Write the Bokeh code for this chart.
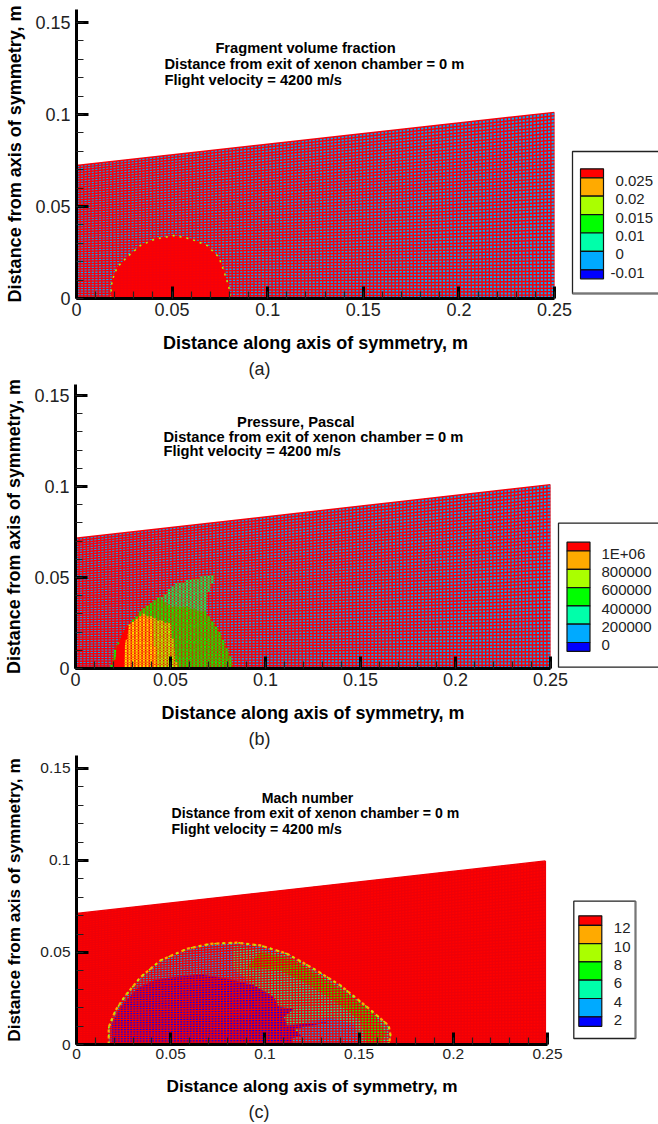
from bokeh.plotting import figure
from bokeh.layouts import column, row
from bokeh.models import Range1d, FixedTicker, Title
from bokeh.models import Label
from bokeh.core.properties import value
from bokeh.embed import file_html
from bokeh.resources import INLINE

FONT = "Liberation Sans"
RED, ORANGE, LIME, GREEN, AQUA, SKY, BLUE = "#ff0000", "#ffaa00", "#aaff00", "#00ff00", "#00ffaa", "#00aaff", "#0000ff"
BAND_COLORS = [RED, ORANGE, LIME, GREEN, AQUA, SKY, BLUE]

x_ticks = [0, 0.05, 0.1, 0.15, 0.2, 0.25]
y_ticks = [0, 0.05, 0.1, 0.15]
x_minor = [i / 100 for i in range(0, 26)]
y_minor = [i / 100 for i in range(0, 16)]

a_levels = ["0.025", "0.02", "0.015", "0.01", "0", "-0.01"]
b_levels = ["1E+06", "800000", "600000", "400000", "200000", "0"]
c_levels = ["12", "10", "8", "6", "4", "2"]

a_title = ["Fragment volume fraction", "Distance from exit of xenon chamber = 0 m", "Flight velocity = 4200 m/s"]
b_title = ["Pressure, Pascal", "Distance from exit of xenon chamber = 0 m", "Flight velocity = 4200 m/s"]
c_title = ["Mach number", "Distance from exit of xenon chamber = 0 m", "Flight velocity = 4200 m/s"]

# Panel (a): fragment volume fraction
a_blob_x = [.0178, .0186, .0213, .0274, .0335, .0413, .0509, .0596, .0683, .0744, .0770, .0797, .0805]
a_blob_y = [0, .0098, .0170, .0234, .0288, .0324, .0342, .0324, .0288, .0225, .0152, .0062, 0]

# Panel (b): pressure
b_green_x = [.0184, .0211, .0263, .0351, .0447, .0535, .0658, .0737, .0693, .0684, .0746, .0781, .0816, .0833]
b_green_y = [0, .0117, .0218, .0328, .0392, .0465, .0502, .0511, .0401, .0309, .0227, .0154, .0062, 0]
b_aqua_x = [.0447, .0535, .0658, .0737, .0693, .0684, .0588, .0483]
b_aqua_y = [.0392, .0465, .0502, .0511, .0401, .0309, .0337, .0346]
b_lime_x = [.0351, .0500, .0535, .0430, .0421, .0412, .0404]
b_lime_y = [.0300, .0246, 0, 0, .0081, .0172, .0264]
b_orange_x = [.0202, .0228, .0281, .0351, .0404, .0412, .0421, .0430]
b_orange_y = [0, .0136, .0236, .0300, .0264, .0172, .0081, 0]
b_red_x = [.0202, .0219, .0263, .0281, .0258, .0254]
b_red_y = [0, .0117, .0218, .0236, .0117, 0]

# Panel (c): Mach number
c_outer_x = [.0171, .0171, .0207, .0260, .0340, .0446, .0587, .0711, .0853, .0977, .1118, .1260, .1401, .1543, .1657, .1667, .1657]
c_outer_y = [0, .0094, .0185, .0266, .0366, .0457, .0520, .0547, .0553, .0538, .0493, .0411, .0321, .0203, .0103, .0049, 0]
c_aqua_x = [.0835, .1118, .1260, .1401, .1543, .1649, .1657, .1153, .1189, .1153, .1331, .1118, .1100, .1153, .1074, .1047, .0941, .0826]
c_aqua_y = [.0538, .0484, .0402, .0312, .0194, .0103, 0, 0, .0049, .0085, .0121, .0103, .0149, .0194, .0203, .0257, .0321, .0420]
c_green_x = [.0977, .1153, .1295, .1437, .1578, .1640, .1614, .1543, .1507, .1366, .1225, .1083, .0906]
c_green_y = [.0502, .0457, .0366, .0275, .0167, .0058, 0, 0, .0130, .0239, .0330, .0402, .0420]
c_sky_x = [.1153, .1189, .1331, .1472, .1507]
c_sky_y = [0, .0112, .0148, .0112, 0]
c_blue_x = [.0189, .0189, .0233, .0322, .0410, .0517, .0658, .0800, .0941, .1047, .1074, .1153, .1100, .1118, .1331, .1153, .1189, .1136, .1153]
c_blue_y = [0, .0112, .0203, .0303, .0348, .0366, .0380, .0357, .0321, .0257, .0203, .0194, .0149, .0103, .0121, .0085, .0049, .0031, 0]


def mesh(p, xr, t0, t1, nx, ny, color, width):
    xs, ys = [], []
    for j in range(ny + 1):
        f = j / ny
        xs.append([0, xr]); ys.append([f * t0, f * t1])
    for i in range(nx + 1):
        x = xr * i / nx
        xs.append([x, x]); ys.append([0, t0 + (t1 - t0) * i / nx])
    p.multi_line(xs, ys, line_color=color, line_width=width)


def inside(px, py, xs, ys):
    hit = False
    n = len(xs)
    for i in range(n):
        x1, y1, x2, y2 = xs[i], ys[i], xs[(i + 1) % n], ys[(i + 1) % n]
        if (y1 > py) != (y2 > py) and px < x1 + (py - y1) * (x2 - x1) / (y2 - y1):
            hit = not hit
    return hit


def node_dots(p, xr, t0, t1, nx, ny, zones, size):
    """Paint the mesh crossings that fall inside a zone in that zone's colour."""
    dx, dy, dc = [], [], []
    for i in range(nx + 1):
        x = xr * i / nx
        top = t0 + (t1 - t0) * i / nx
        for j in range(ny + 1):
            y = top * j / ny
            col = None
            for xs, ys, c in zones:
                if inside(x, y, xs, ys):
                    col = c
            if col:
                dx.append(x); dy.append(y); dc.append(col)
    p.scatter(dx, dy, marker="square", size=size, fill_color=dc, line_color=None)


def panel(left, frame_w, top, bottom, height, y_end, tick_size, label_size, caption, y_standoff, cap_standoff):
    p = figure(width=572, height=height, output_backend="svg", toolbar_location=None,
               x_range=Range1d(0, 0.25), y_range=Range1d(0, y_end),
               min_border_left=left, min_border_right=572 - left - frame_w,
               min_border_top=top, min_border_bottom=bottom,
               outline_line_color=None, background_fill_color=None, border_fill_color=None,
               x_axis_label="Distance along axis of symmetry, m",
               y_axis_label="Distance from axis of symmetry, m")
    p.grid.visible = False
    p.xaxis.ticker = FixedTicker(ticks=x_ticks, minor_ticks=x_minor)
    p.yaxis.ticker = FixedTicker(ticks=y_ticks, minor_ticks=y_minor)
    for ax in (p.xaxis, p.yaxis):
        ax.axis_line_width = 3
        ax.axis_line_color = "#000000"
        ax.major_tick_in = 12
        ax.major_tick_out = 0
        ax.major_tick_line_width = 3
        ax.major_tick_line_color = "#000000"
        ax.minor_tick_in = 7
        ax.minor_tick_out = 0
        ax.minor_tick_line_width = 1.2
        ax.minor_tick_line_color = "#222222"
        ax.major_label_text_font = FONT
        ax.major_label_text_font_size = f"{tick_size}px"
        ax.major_label_text_color = "#222222"
        ax.axis_label_text_font = FONT
        ax.axis_label_text_font_style = "bold"
        ax.axis_label_text_font_size = f"{label_size}px"
        ax.axis_label_text_color = "#000000"
    p.xaxis.major_label_standoff = 4
    p.yaxis.major_label_standoff = 6
    p.xaxis.axis_label_standoff = 14
    p.yaxis.axis_label_standoff = y_standoff
    p.add_layout(Title(text=caption, align="left", offset=259 - left - 11, standoff=cap_standoff,
                       text_font=FONT, text_font_style="normal", text_font_size="18px",
                       text_color="#222222"), "below")
    return p


def title_block(p, lines, cx, lx, ys, size):
    p.add_layout(Label(x=cx, y=ys[0], text=lines[0], text_align="center", text_baseline="middle",
                       text_font=FONT, text_font_style="bold", text_font_size=f"{size}px", text_color="#000000"))
    for t, y in zip(lines[1:], ys[1:]):
        p.add_layout(Label(x=lx, y=y, text=t, text_align="left", text_baseline="middle",
                           text_font=FONT, text_font_style="bold", text_font_size=f"{size}px", text_color="#000000"))


def zone(p, xs, ys, color, alpha=1.0):
    p.patch(xs, ys, fill_color=color, fill_alpha=alpha, line_color=None if alpha < 1 else color, line_width=0.5)


def legend(height, frame_top, frame_bottom, box, bar, half, full, levels, label_x, label_offset, gray_side, page_top):
    lf = figure(width=102, height=height, output_backend="svg", toolbar_location=None,
                x_axis_type=None, y_axis_type=None,
                x_range=Range1d(556, 658), y_range=Range1d(frame_bottom, frame_top),
                min_border_left=0, min_border_right=0,
                min_border_top=frame_top - page_top, min_border_bottom=page_top + height - frame_bottom,
                outline_line_color=None, background_fill_color=None, border_fill_color=None)
    lf.grid.visible = False
    l, t, r, b = box
    lf.quad(left=[l], right=[r], top=[t], bottom=[b], fill_color="#ffffff", line_color="#222222", line_width=1.3)
    if gray_side == "bottom":
        lf.segment([l], [b], [r], [b], line_color="#777777", line_width=2)
    else:
        lf.segment([r], [t], [r], [b], line_color="#777777", line_width=2)
    tops, bots = [], []
    y = bar[2]
    for i in range(7):
        h = half if i in (0, 6) else full
        tops.append(y); bots.append(y + h)
        y += h
    lf.quad(left=[bar[0]] * 7, right=[bar[1]] * 7, top=tops, bottom=bots,
            fill_color=BAND_COLORS, line_color="#111111", line_width=1.2)
    lab_y = [bots[i] + label_offset for i in range(6)]
    lab_x = [label_x - 5 if s.startswith("-") else label_x for s in levels]
    lf.text(lab_x, lab_y, text=levels, text_font=value(FONT), text_font_size="15px",
            text_baseline="middle", text_align="left", text_color="#222222")
    lf.margin = (0, 0, 0, -16)
    return lf


# ---------- (a)  page y 0..380, frame 9..298
pa = panel(76, 478, 9, 82, 380, 0.157, 18, 18, "(a)", 7, 2)
pa.patch([0, 0.25, 0.25, 0], [0, 0, 0.1011, 0.0723], fill_color=SKY, line_color=None)
zone(pa, a_blob_x, a_blob_y, RED)
mesh(pa, 0.25, 0.0723, 0.1011, 132, 54, "#f4000a", 1.45)
pa.line(a_blob_x, a_blob_y, line_color=LIME, line_width=1.5, line_dash="2 5")
title_block(pa, a_title, 0.1198, 0.046, [0.1359, 0.1272, 0.1185], 14.7)
la = legend(380, 9, 298, (572, 151, 665, 293), (580, 603, 168.3), 9, 18.4, a_levels, 615, 3, "bottom", 0)

# ---------- (b)  page y 380..750, frame 384..668
pb = panel(75, 475, 4, 82, 370, 0.156, 18, 17.9, "(b)", 7, 3)
pb.patch([0, 0.25, 0.25, 0], [0, 0, 0.101, 0.0715], fill_color=SKY, line_color=None)
zone(pb, b_green_x, b_green_y, "#33cc00")
zone(pb, b_aqua_x, b_aqua_y, "#44bb55")
zone(pb, b_lime_x, b_lime_y, "#bbcc00")
zone(pb, b_orange_x, b_orange_y, "#ff8800")
zone(pb, b_red_x, b_red_y, RED)
mesh(pb, 0.25, 0.0715, 0.101, 132, 54, "#f4000a", 1.45)
node_dots(pb, 0.25, 0.0715, 0.101, 132, 54,
          [(b_green_x, b_green_y, GREEN), (b_aqua_x, b_aqua_y, "#00ff66"), (b_lime_x, b_lime_y, LIME),
           (b_orange_x, b_orange_y, "#ffdd00"), (b_red_x, b_red_y, RED)], 2.0)
zone(pb, b_red_x, b_red_y, RED, 0.8)
title_block(pb, b_title, 0.116, 0.0463, [0.1352, 0.1269, 0.1194], 14.7)
lb = legend(370, 384, 668, (558, 522.7, 665, 666.7), (566.5, 589.5, 541.7), 8.8, 18.3, b_levels, 601, 2.6, "right", 380)

# ---------- (c)  page y 750..1124, frame 755..1044
pc = panel(76, 471, 5, 80, 374, 0.157, 15.5, 17.2, "(c)", 13, 2)
pc.patch([0, 0.2489, 0.2489, 0], [0, 0, 0.0997, 0.0712], fill_color=RED, line_color=None)
zone(pc, c_outer_x, c_outer_y, SKY)
zone(pc, c_aqua_x, c_aqua_y, AQUA)
zone(pc, c_green_x, c_green_y, GREEN)
zone(pc, c_sky_x, c_sky_y, SKY)
zone(pc, c_blue_x, c_blue_y, BLUE)
mesh(pc, 0.2489, 0.0712, 0.0997, 150, 60, "#ee0008", 1.3)
pc.line(c_outer_x, c_outer_y, line_color=ORANGE, line_width=2.2, line_dash="3 3")
pc.line(c_outer_x, c_outer_y, line_color=LIME, line_width=1.5, line_dash="2 6")
title_block(pc, c_title, 0.1226, 0.0504, [0.1337, 0.1256, 0.1169], 14.1)
lc = legend(374, 755, 1044, (573.3, 900.7, 635, 1038), (578.3, 601.3, 915.3), 9.5, 18.3, c_levels, 613.3, 3, "right", 750)

layout = column(row(pa, la, spacing=0), row(pb, lb, spacing=0), row(pc, lc, spacing=0), spacing=0)
open("out.html", "w").write(file_html(layout, INLINE))
